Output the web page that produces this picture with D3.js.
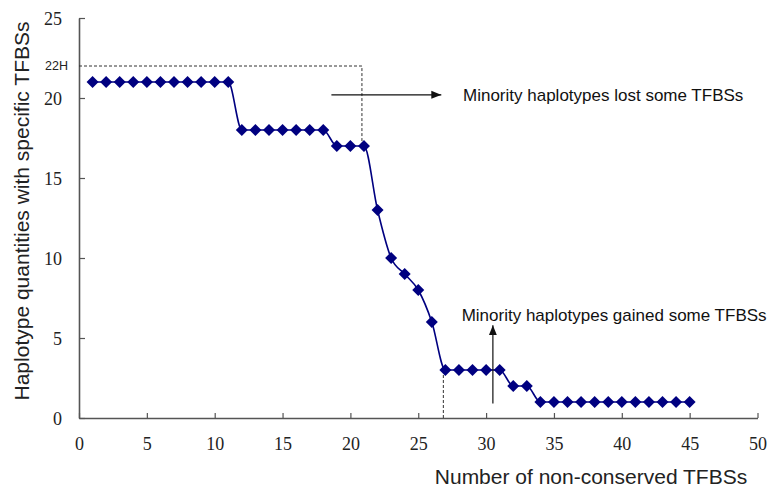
<!DOCTYPE html>
<html><head><meta charset="utf-8">
<script src="https://cdn.jsdelivr.net/npm/d3@7"></script>
<style>body{margin:0;background:#fff}svg{display:block}</style>
</head><body>
<svg id="c" width="771" height="490"></svg>
<script>
const xValues = [1,2,3,4,5,6,7,8,9,10,11,12,13,14,15,16,17,18,19,20,21,22,23,24,25,26,27,28,29,30,31,32,33,34,35,36,37,38,39,40,41,42,43,44,45];
const yValues = [21,21,21,21,21,21,21,21,21,21,21,18,18,18,18,18,18,18,17,17,17,13,10,9,8,6,3,3,3,3,3,2,2,1,1,1,1,1,1,1,1,1,1,1,1];
const xTicks = [0,5,10,15,20,25,30,35,40,45,50];
const yTicks = [0,5,10,15,20,25];
const xTitle = "Number of non-conserved TFBSs";
const yTitle = "Haplotype quantities with specific TFBSs";
const refLabel = "22H";
const noteLost = "Minority haplotypes lost some TFBSs";
const noteGained = "Minority haplotypes gained some TFBSs";

const svg = d3.select("#c");
const x = d3.scaleLinear().domain([0,50]).range([79,757.5]);
const y = d3.scaleLinear().domain([0,25]).range([418,18]);
const axisColor = "#555";
const tickFont = "'Liberation Serif', 'Times New Roman', serif";
const noteFont = "'Liberation Sans', Arial, sans-serif";

// axes
const gx = svg.append("g").attr("transform","translate(0,418)")
  .call(d3.axisBottom(x).tickValues(xTicks).tickSizeInner(-5).tickSizeOuter(0).tickPadding(23));
const gy = svg.append("g").attr("transform","translate(79,0)")
  .call(d3.axisLeft(y).tickValues(yTicks).tickSizeInner(-6).tickSizeOuter(0).tickPadding(17));
[gx,gy].forEach(g=>{
  g.select(".domain").attr("stroke",axisColor).attr("stroke-width",1.6);
  g.selectAll(".tick line").attr("stroke",axisColor).attr("stroke-width",1.2);
  g.selectAll(".tick text").attr("fill","#222").style("font-family",tickFont).style("font-size","18px");
});
gx.selectAll(".tick text").attr("dy","0.5em");
gy.selectAll(".tick text").attr("dy","0.35em");

// reference dashed lines
svg.append("path")
  .attr("d", `M${x(0)},${y(22)}H${x(20.85)}V${y(16.8)}`)
  .attr("fill","none").attr("stroke","#333").attr("stroke-width",1).attr("stroke-dasharray","3,2");
svg.append("path")
  .attr("d", `M${x(26.85)},${y(0)}V${y(3)}`)
  .attr("fill","none").attr("stroke","#333").attr("stroke-width",1).attr("stroke-dasharray","3,2");
svg.append("text").attr("x",68).attr("y",y(22)).attr("dy","0.35em").attr("text-anchor","end")
  .style("font-family",noteFont).style("font-size","12.5px").attr("fill","#222").text(refLabel);

// line
const data = xValues.map((v,i)=>({x:v,y:yValues[i]}));
svg.append("path").datum(data)
  .attr("d", d3.line().x(d=>x(d.x)).y(d=>y(d.y)).curve(d3.curveMonotoneX))
  .attr("fill","none").attr("stroke","#000080").attr("stroke-width",1.6);
svg.append("g").selectAll("path").data(data).join("path")
  .attr("transform", d=>`translate(${x(d.x)},${y(d.y)})`)
  .attr("d", "M0,-6L6,0L0,6L-6,0Z")
  .attr("fill","#000080");

// annotations
const defs = svg.append("defs");
defs.append("marker").attr("id","ah").attr("viewBox","0 0 10 10").attr("refX",10).attr("refY",5)
  .attr("markerWidth",10).attr("markerHeight",10).attr("markerUnits","userSpaceOnUse").attr("orient","auto")
  .append("path").attr("d","M0,1L10,5L0,9Z").attr("fill","#111");
svg.append("line").attr("x1",x(18.6)).attr("x2",x(26.7)).attr("y1",y(20.2)).attr("y2",y(20.2))
  .attr("stroke","#111").attr("stroke-width",1.2).attr("marker-end","url(#ah)");
svg.append("line").attr("x1",x(30.5)).attr("x2",x(30.5)).attr("y1",y(0.9)).attr("y2",y(5.8))
  .attr("stroke","#111").attr("stroke-width",1.2).attr("marker-end","url(#ah)");
svg.append("text").attr("x",x(28.3)).attr("y",y(20.2)).attr("dy","0.35em")
  .style("font-family",noteFont).style("font-size","17px").attr("fill","#111").text(noteLost);
svg.append("text").attr("x",x(28.2)).attr("y",y(6.45)).attr("dy","0.35em")
  .style("font-family",noteFont).style("font-size","17px").attr("fill","#111").text(noteGained);

// titles
svg.append("text").attr("x",591).attr("y",477).attr("dy","0.35em").attr("text-anchor","middle")
  .style("font-family",noteFont).style("font-size","21px").attr("fill","#222").text(xTitle);
svg.append("text").attr("transform","translate(22,211) rotate(-90)").attr("dy","0.35em").attr("text-anchor","middle")
  .style("font-family",noteFont).style("font-size","21px").attr("fill","#222").text(yTitle);
</script>
</body></html>
